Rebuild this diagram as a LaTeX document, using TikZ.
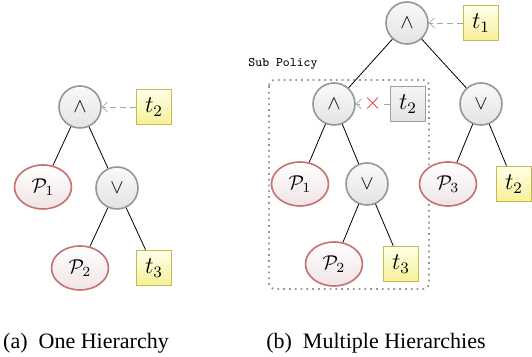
\documentclass[tikz,border=0pt]{standalone}
\usepackage{amsmath,amssymb}
\usepackage[no-math]{fontspec}
\setmainfont{Liberation Serif}
\usetikzlibrary{arrows.meta,shapes.geometric}

\definecolor{opborder}{RGB}{150,150,152}
\definecolor{polborder}{RGB}{198,112,112}
\definecolor{polfill}{RGB}{240,228,228}
\definecolor{tokborder}{RGB}{196,186,78}
\definecolor{tokfill}{RGB}{246,240,150}
\definecolor{crossred}{RGB}{245,60,60}

\tikzset{
	opnode/.style={circle, draw=opborder, line width=0.8pt, top color=gray!4, bottom color=gray!22, minimum size=21pt, inner sep=0pt},
	polnode/.style={ellipse, draw=polborder, line width=0.8pt, top color=white, bottom color=polfill, minimum width=28.5pt, minimum height=22pt, inner sep=0pt},
	tokbox/.style={rectangle, draw=tokborder, line width=0.8pt, top color=yellow!8, bottom color=tokfill, minimum size=17.5pt, inner sep=0pt, font=\large},
	revbox/.style={tokbox, draw=gray!75, top color=gray!8, bottom color=gray!22},
	tokarrow/.style={gray!70, dashed, dash pattern=on 3pt off 2pt, -{Straight Barb[length=2.5pt,width=5pt]}},
	subbox/.style={gray!80, dotted, line width=0.9pt, rounded corners=3pt},
}

\begin{document}
\begin{tikzpicture}[x=0.5pt, y=-0.5pt]
	\useasboundingbox (0,0) rectangle (532,357);
	% (a) one hierarchy
	\node[opnode] (a-and) at (80,107) {$\wedge$};
	\node[tokbox] (a-t2) at (154,107) {$t_2$};
	\node[polnode] (a-p1) at (43,187) {$\mathcal{P}_1$};
	\node[opnode] (a-or) at (117,188) {$\vee$};
	\node[polnode] (a-p2) at (80,268) {$\mathcal{P}_2$};
	\node[tokbox] (a-t3) at (154,268) {$t_3$};
	\draw (a-and) -- (a-p1);
	\draw (a-and) -- (a-or);
	\draw (a-or) -- (a-p2);
	\draw (a-or) -- (a-t3);
	\draw[tokarrow] (a-t2) -- (a-and);
	\node (cap-a) at (86,343) {\fontsize{11}{13}\selectfont (a)~~One Hierarchy};

	% (b) multiple hierarchies
	\draw[subbox] (269,80) rectangle (429,289);
	\node[font=\fontsize{6.5}{8}\ttfamily] (subpol) at (283,64) {Sub Policy};
	\node[opnode] (b-and) at (407,23) {$\wedge$};
	\node[tokbox] (b-t1) at (481,23) {$t_1$};
	\node[opnode] (b-sub) at (334,104) {$\wedge$};
	\node[revbox] (b-t2) at (408,104) {$t_2$};
	\node[opnode] (b-or) at (481,104) {$\vee$};
	\node[polnode] (b-p1) at (300,184) {$\mathcal{P}_1$};
	\node[opnode] (b-subor) at (367,184) {$\vee$};
	\node[polnode] (b-p3) at (448,184) {$\mathcal{P}_3$};
	\node[tokbox] (b-t2r) at (514,184) {$t_2$};
	\node[polnode] (b-p2) at (334,264) {$\mathcal{P}_2$};
	\node[tokbox] (b-t3) at (401,264) {$t_3$};
	\draw (b-and) -- (b-sub);
	\draw (b-and) -- (b-or);
	\draw (b-sub) -- (b-p1);
	\draw (b-sub) -- (b-subor);
	\draw (b-subor) -- (b-p2);
	\draw (b-subor) -- (b-t3);
	\draw (b-or) -- (b-p3);
	\draw (b-or) -- (b-t2r);
	\draw[tokarrow] (b-t1) -- (b-and);
	\draw[tokarrow] (b-t2) -- node[text=crossred, font=\large, inner sep=0pt, fill=white] (revoked) {$\times$} (b-sub);
	\node (cap-b) at (376,343) {\fontsize{11}{13}\selectfont (b)~~Multiple Hierarchies};
\end{tikzpicture}
\end{document}
